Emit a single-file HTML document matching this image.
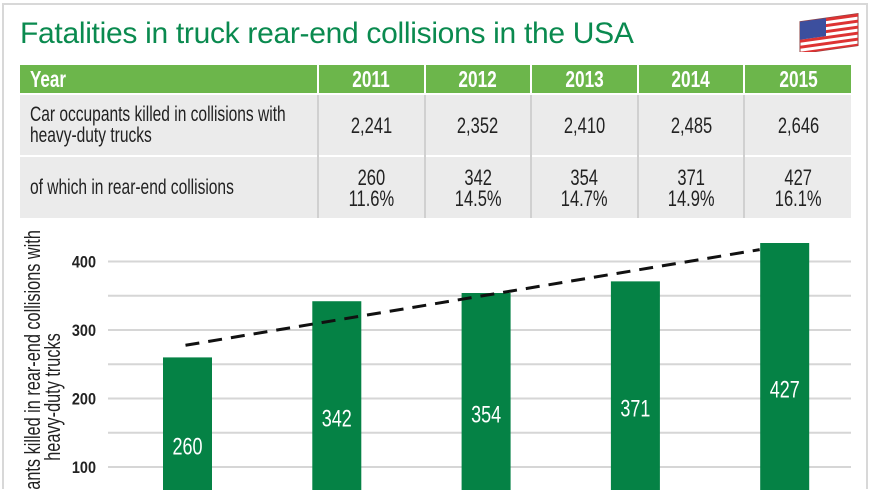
<!DOCTYPE html>
<html><head><meta charset="utf-8">
<style>
body{margin:0;background:#fff;overflow:hidden;}
#wrap{position:relative;width:870px;height:490px;overflow:hidden;background:#fff;font-family:"Liberation Sans",sans-serif;}
#frame{position:absolute;left:2px;top:3px;width:862px;height:484px;border:2px solid #d8d8d8;border-bottom:none;}
#title{position:absolute;left:20px;top:17px;font-family:"Liberation Sans",sans-serif;font-size:30px;color:#0a8a4f;letter-spacing:-0.3px;}
table{position:absolute;left:20px;top:65px;border-collapse:collapse;width:831px;table-layout:fixed;}
th{background:#6cb64b;color:#fff;font-weight:bold;font-size:23px;height:28px;padding:0;border-left:2px solid #fff;text-align:center;}
th.first{text-align:left;padding-left:10px;border-left:none;}
td{background:#ebebeb;color:#222;font-size:22px;text-align:center;border-left:2px solid #d0d0d0;border-top:2px solid #fff;padding:0;line-height:21px;overflow:hidden;}
td.first{text-align:left;padding-left:10px;border-left:none;white-space:nowrap;font-size:21px;}
.n{display:inline-block;transform:scaleX(0.75);transform-origin:center;}
.nl{display:inline-block;transform:scaleX(0.74);transform-origin:left;}
</style></head><body>
<div id="wrap">
<div id="frame"></div>
<div id="title">Fatalities in truck rear-end collisions in the USA</div>
<svg style="position:absolute;left:798px;top:10px" width="64" height="42">
<g transform="skewY(-8) translate(0,8)">
<rect x="2" y="4" width="58" height="32" fill="#fff" stroke="#8a4040" stroke-width="1"/>
<rect x="2" y="4" width="58" height="3" fill="#d33"/><rect x="2" y="10" width="58" height="3" fill="#d33"/><rect x="2" y="16" width="58" height="3" fill="#d33"/><rect x="2" y="22" width="58" height="3" fill="#d33"/><rect x="2" y="28" width="58" height="3" fill="#d33"/><rect x="2" y="34" width="58" height="2" fill="#d33"/>
<rect x="2" y="4" width="26" height="18" fill="#3c4f9e"/>
</g></svg>
<table>
<colgroup><col style="width:298px"><col><col><col><col><col></colgroup>
<tr><th class="first"><span class="nl">Year</span></th><th><span class="n">2011</span></th><th><span class="n">2012</span></th><th><span class="n">2013</span></th><th><span class="n">2014</span></th><th><span class="n">2015</span></th></tr>
<tr style="height:62px"><td class="first"><span class="nl">Car occupants killed in collisions with<br>heavy-duty trucks</span></td><td><span class="n">2,241</span></td><td><span class="n">2,352</span></td><td><span class="n">2,410</span></td><td><span class="n">2,485</span></td><td><span class="n">2,646</span></td></tr>
<tr style="height:62px"><td class="first"><span class="nl">of which in rear-end collisions</span></td><td><span class="n">260<br>11.6%</span></td><td><span class="n">342<br>14.5%</span></td><td><span class="n">354<br>14.7%</span></td><td><span class="n">371<br>14.9%</span></td><td><span class="n">427<br>16.1%</span></td></tr>
</table>
<svg id="chart" style="position:absolute;left:0;top:0" width="870" height="490"></svg>
</div>
<script>
const categories=["2011","2012","2013","2014","2015"];
const values=[260,342,354,371,427];
const yTicks=[100,200,300,400];
const gridVals=[100,150,200,250,300,350,400];
const NS="http://www.w3.org/2000/svg";
const svg=document.getElementById('chart');
function y(v){return 467-(v-100)*0.685;}
function xc(i){return 187.5+i*149.3;}
function mk(t,a){const e=document.createElementNS(NS,t);for(const k in a)e.setAttribute(k,a[k]);svg.appendChild(e);return e;}
gridVals.forEach(v=>{const l=mk('line',{x1:108,x2:851,y1:y(v),y2:y(v),stroke:'#d6d6d6','stroke-width':2});

});
yTicks.forEach(v=>{const t=mk('text',{x:0,y:0,transform:'translate(96,'+(y(v)+6)+') scale(0.85,1)','text-anchor':'end','font-size':17,'font-weight':'bold',fill:'#222'});t.textContent=v;

});
const bottom=Math.min(y(0),490);
values.forEach((v,i)=>{const r=mk('rect',{x:xc(i)-24.5,y:y(v),width:49,height:bottom-y(v),fill:'#058245'});


const t=mk('text',{x:0,y:0,transform:'translate('+xc(i)+','+((y(v)+y(0))/2+8)+') scale(0.75,1)','text-anchor':'middle','font-size':24,fill:'#fff'});t.textContent=v;

});
const n=values.length,mx=(n-1)/2,my=values.reduce((a,b)=>a+b)/n;
let num=0,den=0;values.forEach((v,i)=>{num+=(i-mx)*(v-my);den+=(i-mx)*(i-mx);});
const slope=num/den,icpt=my-slope*mx;
const xa=xc(0)-2,xb=xc(n-1)-25;
const ia=(xa-xc(0))/149.3,ib=(xb-xc(0))/149.3;
const tl=mk('line',{x1:xa,y1:y(icpt+slope*ia),x2:xb,y2:y(icpt+slope*ib),stroke:'#111','stroke-width':3,'stroke-dasharray':'14,9'});


const g=mk('g',{transform:'translate(0,397) rotate(-90) scale(0.74,1)'});


[["Car occupants killed in rear-end collisions with",40],["heavy-duty trucks",60]].forEach(([s,xx])=>{const t=document.createElementNS(NS,'text');t.setAttribute('x',0);t.setAttribute('y',xx);t.setAttribute('text-anchor','middle');t.setAttribute('font-size',22);t.setAttribute('fill','#222');t.textContent=s;g.appendChild(t);});
</script>
</body></html>
